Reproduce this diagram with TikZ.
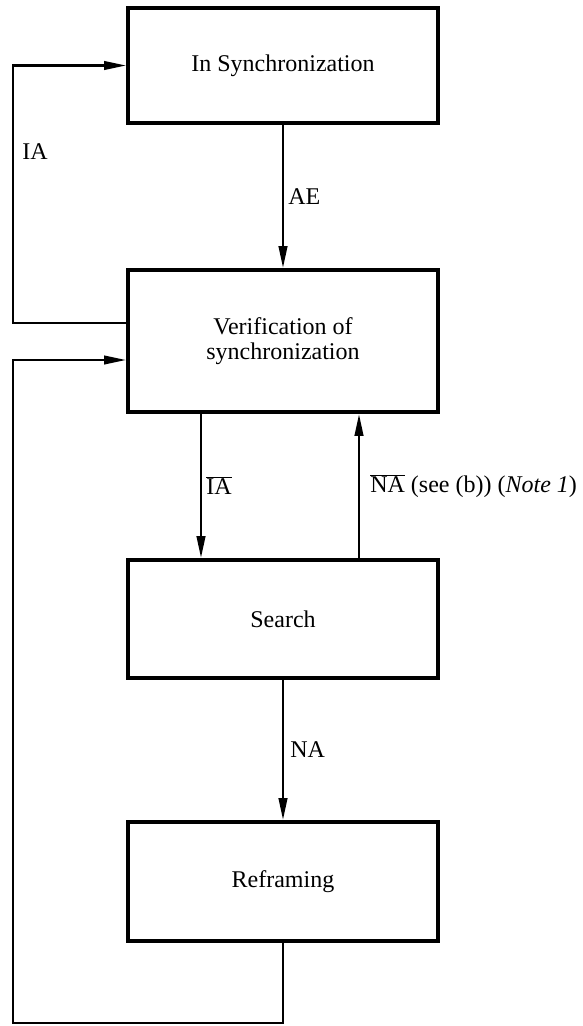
\documentclass[tikz,border=0pt]{standalone}
\usepackage{fontspec}
\setmainfont{Liberation Serif}
\usetikzlibrary{arrows.meta}
\begin{document}
\begin{tikzpicture}[x=1pt,y=-1pt,
  font=\fontsize{24}{25.5}\selectfont,
  statebox/.style={draw, line width=3.8pt, minimum width=310pt, align=center},
  flow/.style={line width=2.6pt, -{Triangle[length=22pt,width=8.5pt]}},
  loopline/.style={line width=2.3pt, -{Triangle[length=22pt,width=8.5pt]}},
  lbl/.style={inner sep=4pt}]
\useasboundingbox (0,0) rectangle (583,1026);

% states
\node[statebox, minimum height=115pt] (sync)    at (283,65.5)  {In Synchronization};
\node[statebox, minimum height=142pt] (verif)   at (283,341)   {Verification of\\synchronization};
\node[statebox, minimum height=118pt] (search)  at (283,619)   {Search};
\node[statebox, minimum height=119pt] (reframe) at (283,881.5) {Reframing};

% transitions
\draw[flow] (sync.south) -- (verif.north) node[lbl, midway, right] (lAE) {AE};
\draw[flow] ([xshift=-82pt]verif.south) -- ([xshift=-82pt]search.north)
  node[lbl, midway, right] (lIAbar) {$\overline{\hbox{IA}}$};
\draw[flow] ([xshift=76pt]search.north) -- ([xshift=76pt]verif.south)
  node[lbl, midway, right, xshift=6pt] (lNAbar) {$\overline{\hbox{NA}}$ (see (b)) (\textit{Note 1})};
\draw[flow] (search.south) -- (reframe.north) node[lbl, midway, right, xshift=2pt] (lNA) {NA};

% feedback loops on the left
\draw[loopline] ([yshift=18pt]verif.west) -- (13,323) |- (sync.west);
\node (lIA) at (35,152) {IA};
\draw[loopline] (reframe.south) |- (13,1023) |- ([yshift=-19pt]verif.west);
\end{tikzpicture}
\end{document}
